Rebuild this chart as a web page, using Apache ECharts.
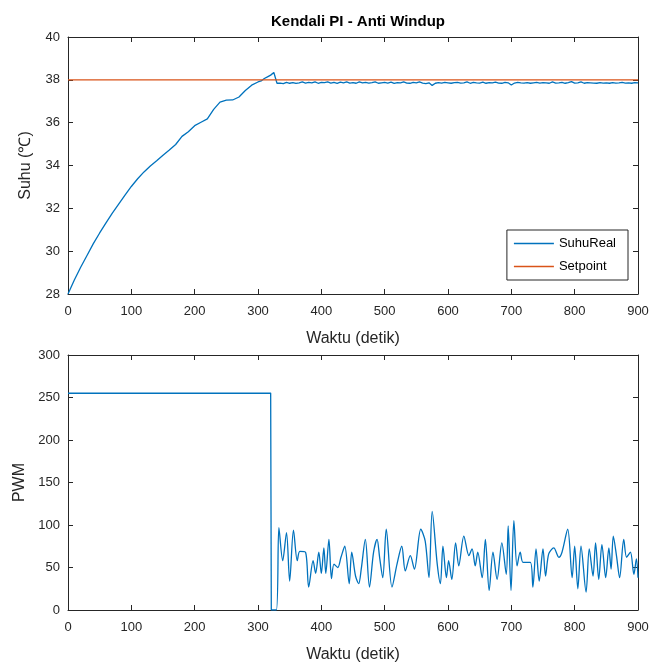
<!DOCTYPE html>
<html>
<head>
<meta charset="utf-8">
<script src="https://cdn.jsdelivr.net/npm/echarts@6/dist/echarts.min.js"></script>
<style>html,body{margin:0;padding:0;background:#fff}#c{width:652px;height:664px}</style>
</head>
<body>
<div id="c"></div>
<script>
// ---- Data ----
var titleText = 'Kendali PI - Anti Windup';
var tempTime = [
  0,10,20,30,40,50,60,70,80,90,
  100,110,120,130,140,150,160,170,180,190,
  200,210,220,230,240,250,260,270,280,290,
  300,305,310,315,320,325,330,
  335,340,345,350,355,360,365,370,375,380,
  385,390,395,400,405,410,415,420,425,430,
  435,440,445,450,455,460,465,470,475,480,
  485,490,495,500,505,510,515,520,525,530,
  535,540,545,550,555,560,565,570,575,580,
  585,590,595,600,605,610,615,620,625,630,
  635,640,645,650,655,660,665,670,675,680,
  685,690,695,700,705,710,715,720,725,730,
  735,740,745,750,755,760,765,770,775,780,
  785,790,795,800,805,810,815,820,825,830,
  835,840,845,850,855,860,865,870,875,880,
  885,890,895,900];
var tempValue = [
  28.0,28.65,29.25,29.8,30.35,30.85,31.32,31.78,32.2,32.62,
  33.02,33.38,33.7,33.98,34.22,34.48,34.72,34.98,35.36,35.58,
  35.86,36.02,36.18,36.62,36.96,37.05,37.06,37.2,37.5,37.75,
  37.9,37.95,38.06,38.14,38.22,38.34,37.84,
  37.85,37.82,37.88,37.84,37.87,37.83,37.86,37.9,37.85,37.88,
  37.86,37.9,37.84,37.88,37.87,37.9,37.85,37.88,37.84,37.89,
  37.86,37.9,37.85,37.87,37.84,37.9,37.86,37.88,37.85,37.87,
  37.9,37.84,37.86,37.88,37.85,37.89,37.83,37.87,37.86,37.9,
  37.85,37.84,37.88,37.86,37.9,37.85,37.82,37.86,37.74,37.84,
  37.87,37.85,37.88,37.86,37.84,37.87,37.88,37.85,37.86,37.9,
  37.84,37.88,37.86,37.85,37.89,37.84,37.87,37.86,37.89,37.85,
  37.84,37.88,37.86,37.76,37.85,37.88,37.86,37.85,37.87,37.84,
  37.86,37.88,37.85,37.87,37.86,37.84,37.9,37.85,37.86,37.88,
  37.84,37.87,37.92,37.85,37.86,37.9,37.84,37.87,37.86,37.85,
  37.84,37.87,37.85,37.86,37.84,37.87,37.85,37.86,37.88,37.85,
  37.86,37.84,37.87,37.86];
var setpoint = 38;
var pwmTime = [0,320,321,329,333,339,345,350,356,362,366,375,380,387,391,396,400,404,407,412,416,420,426,431,437,444,448,454,459,463,469.5,476,482.5,488,492,497,502.5,511.5,519.5,527,532.5,540.5,547,557,564,570,575,583,588,592,597.5,601,606,612,617,625,633,638,643,647,654,659,665,671,677.5,685,692,695,699.5,704,709,714,718.5,730,734,739,744,750,754,759,767,775,780,789,796,800,805,810,818,823,829,833,838,843,849,854,857.5,861,866,871,877.5,882,888,893.5,897.5,900];
var pwmValue = [255,255,0,0,97,58,91,34,94,58,69,68,27,58,43,68,43,73,43,83,37,54,50,62,75,31,68,40,31,48,83,27,68,83,62,38,95,27,54,75,46,64,48,95,81,38,116,54,31,75,38,58,36,79,52,87,64,72,52,68,38,83,23,68,36,79,42,99,23,105,52,68,56,56,27,72,34,72,40,66,73,62,68,95,38,75,25,75,21,72,40,79,36,77,38,73,48,87,64,38,83,62,68,42,60,38];
var tempTicks = [28,30,32,34,36,38,40];
var pwmTicks = [0,50,100,150,200,250,300];
var timeTicks = [0,100,200,300,400,500,600,700,800,900];

var blue = '#0072BD', orange = '#D95319', ink = '#262626', axisCol = '#262626';
var font = 'Liberation Sans, Arial, Helvetica, sans-serif';

function zip(a,b){ var r=[]; var n=Math.min(a.length,b.length); for(var i=0;i<n;i++) r.push([a[i],b[i]]); return r; }

var tempData = zip(tempTime, tempValue);
var spData = [[0,setpoint],[900,setpoint]];
var pwmData = zip(pwmTime, pwmValue);

function xAx(grid, pos, show, name){
  return {
    type:'value', gridIndex:grid, position:pos, min:0, max:900, interval:100,
    axisLine:{show:true, onZero:false, lineStyle:{color:axisCol, width:1}},
    axisTick:{show:true, inside:true, length:5, lineStyle:{color:axisCol}},
    axisLabel:{show:show, color:ink, fontSize:13, fontFamily:font, margin:11},
    splitLine:{show:false},
    name: show ? name : '', nameLocation:'middle', nameGap:37,
    nameTextStyle:{color:ink, fontSize:16, fontFamily:font}
  };
}
function yAx(grid, pos, show, mn, mx, iv, name, gap){
  return {
    type:'value', gridIndex:grid, position:pos, min:mn, max:mx, interval:iv,
    axisLine:{show:true, onZero:false, lineStyle:{color:axisCol, width:1}},
    axisTick:{show:true, inside:true, length:5, lineStyle:{color:axisCol}},
    axisLabel:{show:show, color:ink, fontSize:13, fontFamily:font, margin:8},
    splitLine:{show:false},
    name: show ? name : '', nameLocation:'middle', nameGap:gap, nameRotate:90,
    nameTextStyle:{color:ink, fontSize:16, fontFamily:font}
  };
}

var chart = echarts.init(document.getElementById('c'), null, {renderer:'canvas'});
chart.setOption({
  animation:false,
  backgroundColor:'#fff',
  title:{text:titleText, left:353, top:9, textAlign:'center',
    textStyle:{fontSize:15, fontWeight:'bold', color:'#000', fontFamily:font}},
  legend:{
    show:true, orient:'vertical', right:24, top:230,
    data:['SuhuReal','Setpoint'],
    icon:'rect', itemWidth:40, itemHeight:1.5, itemGap:10,
    padding:[7,12,7,7],
    borderColor:ink, borderWidth:1, backgroundColor:'#fff',
    textStyle:{color:'#000', fontSize:13, fontFamily:font}
  },
  grid:[
    {left:68, right:14, top:37, height:257},
    {left:68, right:14, top:355, height:256}
  ],
  xAxis:[
    xAx(0,'bottom',true,'Waktu (detik)'),
    xAx(0,'top',false,''),
    xAx(1,'bottom',true,'Waktu (detik)'),
    xAx(1,'top',false,'')
  ],
  yAxis:[
    yAx(0,'left',true,28,40,2,'Suhu (\u2103)',34),
    yAx(0,'right',false,28,40,2,'',0),
    yAx(1,'left',true,0,300,50,'PWM',40),
    yAx(1,'right',false,0,300,50,'',0)
  ],
  series:[
    {name:'SuhuReal', type:'line', xAxisIndex:0, yAxisIndex:0, data:tempData, showSymbol:false, symbol:'none',
      lineStyle:{color:blue, width:1.3}, itemStyle:{color:blue}, smooth:false},
    {name:'Setpoint', type:'line', xAxisIndex:0, yAxisIndex:0, data:spData, showSymbol:false, symbol:'none',
      lineStyle:{color:orange, width:1.3}, itemStyle:{color:orange}},
    {name:'PWM', type:'line', xAxisIndex:2, yAxisIndex:2, data:pwmData, showSymbol:false, symbol:'none',
      lineStyle:{color:blue, width:1.3}, itemStyle:{color:blue}, smooth:0.3}
  ]
});
</script>
</body>
</html>
